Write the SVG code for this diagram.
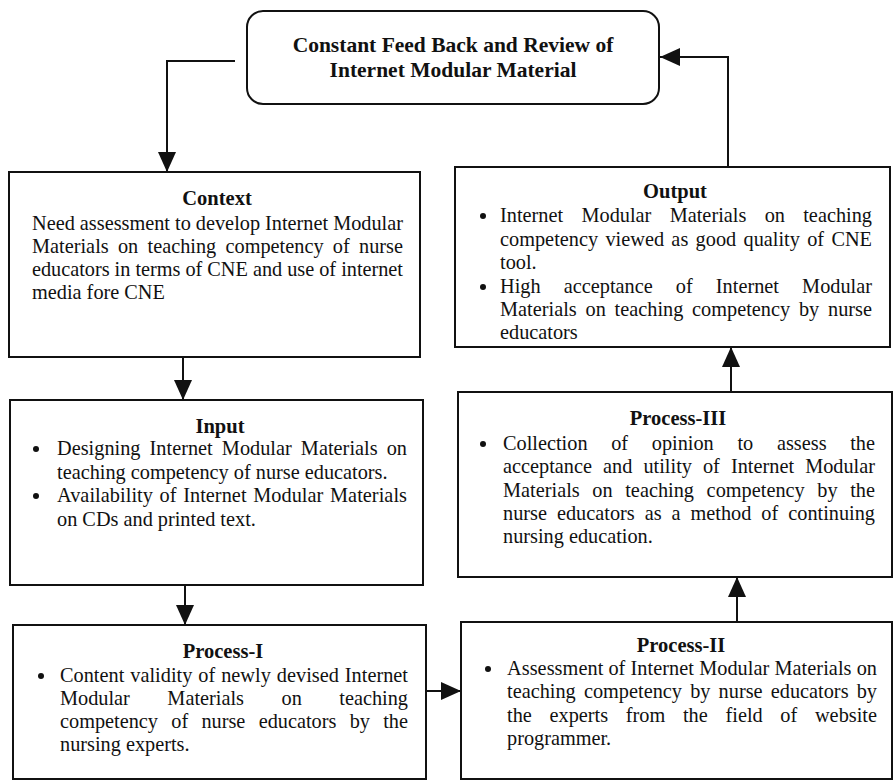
<svg xmlns="http://www.w3.org/2000/svg" width="894" height="782" viewBox="0 0 894 782">
<style>
.box{fill:#fff;stroke:#111;stroke-width:2}
.t{font-family:"Liberation Serif","Times New Roman",serif;font-size:20.3px;fill:#111}
.h{font-family:"Liberation Serif","Times New Roman",serif;font-size:20.5px;font-weight:bold;fill:#111;text-anchor:middle}
.ht{font-size:21.5px}
.b{fill:#111}
.c{fill:none;stroke:#111;stroke-width:2}
</style>
<defs>
<marker id="ah" markerUnits="userSpaceOnUse" markerWidth="20" markerHeight="18" refX="20" refY="9" orient="auto">
<path d="M0,0 L20,9 L0,18 z" fill="#111"/>
</marker>
</defs>
<rect width="894" height="782" fill="#fff"/>
<g id="connectors">
<polyline class="c" points="235,61 167,61 167,172" marker-end="url(#ah)"/>
<line class="c" x1="183" y1="357" x2="183" y2="400" marker-end="url(#ah)"/>
<line class="c" x1="185" y1="585" x2="185" y2="625" marker-end="url(#ah)"/>
<line class="c" x1="426" y1="691" x2="461" y2="691" marker-end="url(#ah)"/>
<line class="c" x1="737" y1="622" x2="737" y2="577" marker-end="url(#ah)"/>
<line class="c" x1="731" y1="392" x2="731" y2="347" marker-end="url(#ah)"/>
<polyline class="c" points="728,167 728,57 660,57" marker-end="url(#ah)"/>
</g>
<g id="feedback">
<rect class="box" x="247" y="11" width="412" height="93" rx="16"/>
<text class="h ht" x="453" y="52">Constant Feed Back and Review of</text>
<text class="h ht" x="453" y="77">Internet Modular Material</text>
</g>
<g id="context">
<rect class="box" x="9" y="172" width="411" height="185"/>
<text class="h" x="217" y="205">Context</text>
<text class="t" x="32" y="230" textLength="371" lengthAdjust="spacing">Need assessment to develop Internet Modular</text>
<text class="t" x="32" y="253" word-spacing="4.2" textLength="371" lengthAdjust="spacing">Materials on teaching competency of nurse</text>
<text class="t" x="32" y="276" textLength="371" lengthAdjust="spacing">educators in terms of CNE and use of internet</text>
<text class="t" x="32" y="299">media fore CNE</text>
</g>
<g id="input">
<rect class="box" x="10" y="400" width="413" height="185"/>
<text class="h" x="220" y="433">Input</text>
<circle class="b" cx="36" cy="449" r="3"/>
<text class="t" x="57" y="455" word-spacing="4" textLength="350" lengthAdjust="spacing">Designing Internet Modular Materials on</text>
<text class="t" x="57" y="479">teaching competency of nurse educators.</text>
<circle class="b" cx="36" cy="496" r="3"/>
<text class="t" x="57" y="502" word-spacing="1.5" textLength="350" lengthAdjust="spacing">Availability of Internet Modular Materials</text>
<text class="t" x="57" y="526">on CDs and printed text.</text>
</g>
<g id="process1">
<rect class="box" x="13" y="625" width="413" height="154"/>
<text class="h" x="223" y="658">Process-I</text>
<circle class="b" cx="41" cy="676" r="3"/>
<text class="t" x="60" y="682" word-spacing="0.9" textLength="348" lengthAdjust="spacing">Content validity of newly devised Internet</text>
<text class="t" x="60" y="705" word-spacing="32.4" textLength="348" lengthAdjust="spacing">Modular Materials on teaching</text>
<text class="t" x="60" y="728" word-spacing="8.2" textLength="348" lengthAdjust="spacing">competency of nurse educators by the</text>
<text class="t" x="60" y="751">nursing experts.</text>
</g>
<g id="process2">
<rect class="box" x="461" y="622" width="431" height="157"/>
<text class="h" x="681" y="652">Process-II</text>
<circle class="b" cx="488" cy="669" r="3"/>
<text class="t" x="507" y="675" textLength="370" lengthAdjust="spacing">Assessment of Internet Modular Materials on</text>
<text class="t" x="507" y="698" word-spacing="3.1" textLength="370" lengthAdjust="spacing">teaching competency by nurse educators by</text>
<text class="t" x="507" y="722" word-spacing="12.6" textLength="370" lengthAdjust="spacing">the experts from the field of website</text>
<text class="t" x="507" y="745">programmer.</text>
</g>
<g id="process3">
<rect class="box" x="458" y="392" width="434" height="185"/>
<text class="h" x="678" y="425">Process-III</text>
<circle class="b" cx="483" cy="444" r="3"/>
<text class="t" x="503" y="450" word-spacing="18.6" textLength="372" lengthAdjust="spacing">Collection of opinion to assess the</text>
<text class="t" x="503" y="473" word-spacing="6" textLength="372" lengthAdjust="spacing">acceptance and utility of Internet Modular</text>
<text class="t" x="503" y="497" word-spacing="7.5" textLength="372" lengthAdjust="spacing">Materials on teaching competency by the</text>
<text class="t" x="503" y="520" word-spacing="4.9" textLength="372" lengthAdjust="spacing">nurse educators as a method of continuing</text>
<text class="t" x="503" y="543">nursing education.</text>
</g>
<g id="output">
<rect class="box" x="455" y="167" width="435" height="180"/>
<text class="h" x="675" y="198">Output</text>
<circle class="b" cx="483" cy="216" r="3"/>
<text class="t" x="500" y="222" word-spacing="13.2" textLength="372" lengthAdjust="spacing">Internet Modular Materials on teaching</text>
<text class="t" x="500" y="246" word-spacing="2.2" textLength="372" lengthAdjust="spacing">competency viewed as good quality of CNE</text>
<text class="t" x="500" y="269">tool.</text>
<circle class="b" cx="483" cy="287" r="3"/>
<text class="t" x="500" y="293" word-spacing="18" textLength="372" lengthAdjust="spacing">High acceptance of Internet Modular</text>
<text class="t" x="500" y="316" word-spacing="3.7" textLength="372" lengthAdjust="spacing">Materials on teaching competency by nurse</text>
<text class="t" x="500" y="339">educators</text>
</g>
</svg>
